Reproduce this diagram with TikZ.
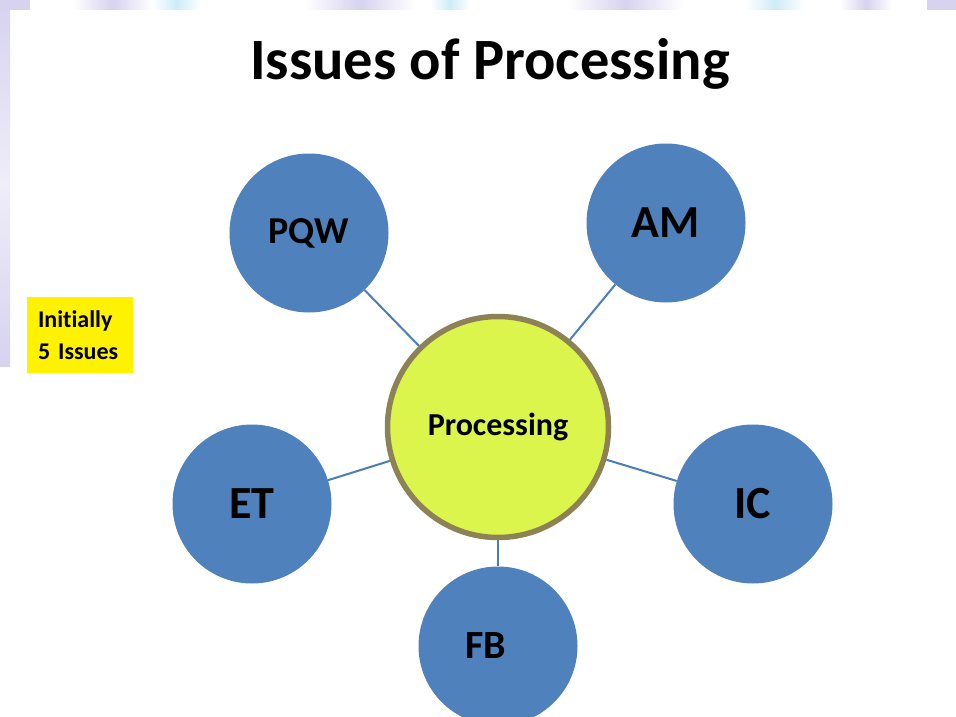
\documentclass[tikz,border=0pt]{standalone}
\usepackage{fontspec}
\setmainfont{Carlito}[Ligatures=NoCommon]
\definecolor{issueblue}{RGB}{79,129,189}
\definecolor{linkblue}{RGB}{74,126,187}
\definecolor{hubfill}{RGB}{219,245,76}
\definecolor{hubrim}{RGB}{140,130,85}
\definecolor{streak}{RGB}{214,210,240}
\definecolor{skystreak}{RGB}{205,236,248}
\begin{document}
\begin{tikzpicture}[x=1pt,y=-1pt,
    issue/.style={circle,fill=issueblue,minimum size=159pt,inner sep=0pt,
      font=\fontsize{46}{50}\selectfont\bfseries},
    hub/.style={circle,fill=hubfill,draw=hubrim,line width=5.5pt,
      minimum size=221pt,inner sep=0pt,font=\fontsize{32}{36}\selectfont\bfseries},
    link/.style={draw=linkblue,line width=2pt},
    note/.style={fill=yellow,text width=84pt,minimum height=76pt,
      align=left,inner xsep=11pt,font=\fontsize{24}{32}\selectfont\bfseries}]

    % Background with the faint streaks at the edges
    \useasboundingbox (0,0) rectangle (956,717);
    \fill[white] (0,0) rectangle (956,717);
    \shade[top color=streak,bottom color=streak,middle color=streak!40] (0,0) rectangle (10,366);
    \fill[streak] (0,0) rectangle (30,10);
    \shade[left color=white,right color=white,middle color=streak] (73,0) rectangle (152,10);
    \shade[left color=white,right color=white,middle color=skystreak] (152,0) rectangle (201,10);
    \shade[left color=white,right color=white,middle color=streak] (305,0) rectangle (415,10);
    \shade[left color=white,right color=white,middle color=skystreak] (430,0) rectangle (470,10);
    \shade[left color=white,right color=white,middle color=streak] (567,0) rectangle (683,10);
    \shade[left color=white,right color=white,middle color=skystreak] (745,0) rectangle (805,10);
    \shade[left color=white,right color=white,middle color=streak] (840,0) rectangle (892,10);
    \fill[streak] (927,0) rectangle (956,10);

    % Title
    \node[anchor=base,font=\fontsize{58.5}{62}\selectfont\bfseries] (title) at (490,80) {Issues of Processing};

    % Side note
    \node[note] (initially) at (80,335) {Initially\\5 Issues};

    % The hub and the issues round it
    \node[hub] (proc) at (498,427) {Processing};
    \node[issue,font=\fontsize{38}{42}\selectfont\bfseries] (pqw) at (309,233) {PQW};
    \node[issue] (am) at (666,223) {AM};
    \node[issue] (et) at (252,504) {ET};
    \node[issue] (ic) at (753,504) {IC};
    \node[issue,label={[xshift=-12pt,font=\fontsize{40}{44}\selectfont\bfseries]center:FB}] (fb) at (498,646) {};

    % Connect the issues to the hub
    \foreach \n in {pqw,am,et,ic,fb}
        \draw[link] (proc) -- (\n);
\end{tikzpicture}
\end{document}
